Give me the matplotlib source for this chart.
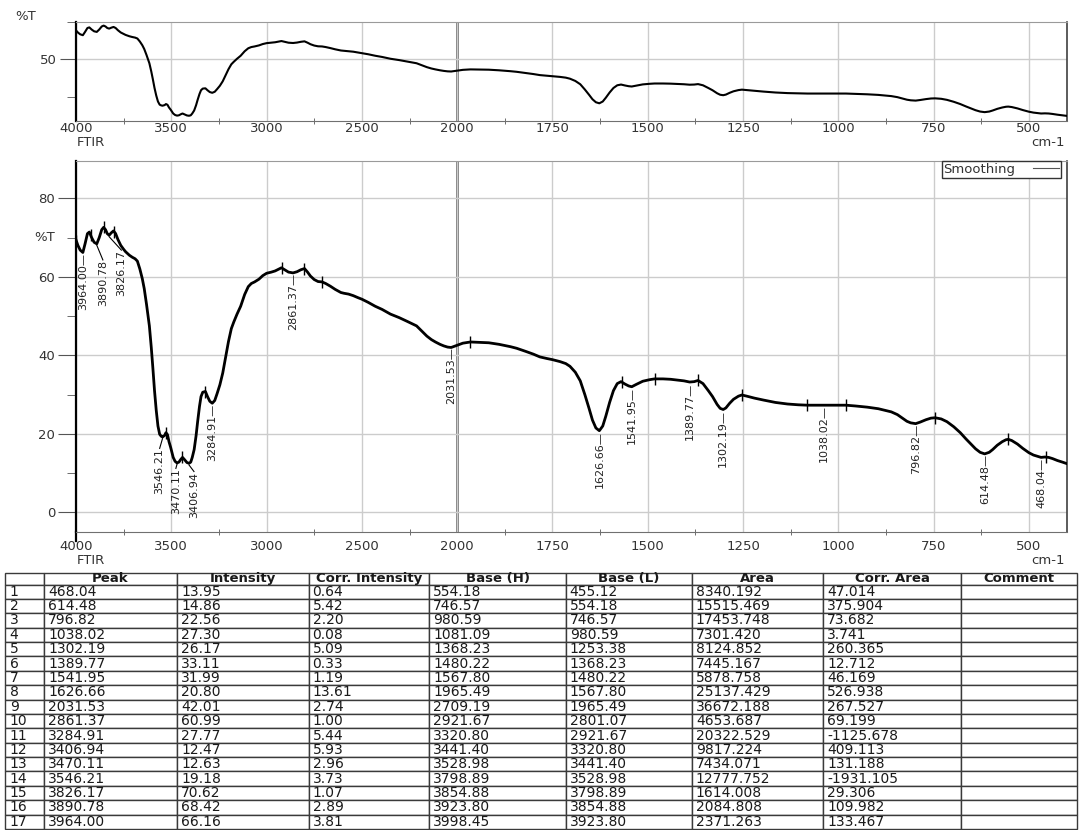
import numpy as np
import matplotlib
matplotlib.use('Agg')
import matplotlib.pyplot as plt
from matplotlib.lines import Line2D

# spectrum: wavenumber (cm-1) and %T
wavenumber = [4000, 3990, 3978, 3964, 3952, 3940, 3930, 3918, 3905, 3891,
              3878, 3865, 3855, 3845, 3836, 3826, 3815, 3803, 3792, 3780,
              3765, 3750, 3740, 3720, 3705, 3690, 3678, 3665, 3652, 3642,
              3630, 3615, 3605, 3597, 3588, 3579, 3570, 3561, 3553, 3546,
              3535, 3528, 3520, 3512, 3503, 3490, 3480, 3470, 3460, 3450,
              3441, 3430, 3418, 3407, 3398, 3390, 3380, 3370, 3362, 3352,
              3344, 3335, 3321, 3310, 3298, 3285, 3272, 3260, 3245, 3230,
              3215, 3200, 3185, 3172, 3155, 3136, 3115, 3096, 3080, 3063,
              3040, 3020, 3000, 2975, 2955, 2935, 2922, 2905, 2885, 2861,
              2840, 2820, 2801, 2785, 2770, 2750, 2730, 2709, 2690, 2665,
              2640, 2610, 2593, 2570, 2545, 2521, 2500, 2467, 2430, 2394,
              2350, 2304, 2260, 2213, 2190, 2159, 2135, 2114, 2090, 2070,
              2050, 2031.5, 2015, 2000, 1985, 1965, 1940, 1917, 1890, 1860,
              1844, 1820, 1800, 1783, 1765, 1750, 1730, 1715, 1704, 1690,
              1677, 1665, 1654, 1645, 1636, 1627, 1618, 1610, 1600, 1590,
              1580, 1570, 1560, 1550, 1542, 1530, 1513, 1495, 1482, 1460,
              1440, 1423, 1405, 1390, 1378, 1368, 1355, 1341, 1330, 1318,
              1310, 1302, 1295, 1285, 1275, 1262, 1253, 1240, 1220, 1196,
              1165, 1133, 1105, 1081, 1060, 1038, 1010, 980, 955, 924,
              895, 861, 845, 832, 820, 810, 797, 785, 770, 757,
              746, 730, 715, 697, 680, 665, 652, 640, 628, 616,
              604, 595, 583, 570, 560, 554, 545, 530, 516, 500,
              488, 475, 468, 458, 448, 438, 425, 412, 400]
transmittance = [69.4, 68.0, 66.8, 66.2, 68.5, 71.0, 71.4, 70.0, 68.8, 68.4,
                 70.0, 72.0, 72.6, 72.0, 71.0, 70.6, 71.2, 71.7, 71.0, 69.5,
                 68.0, 67.0, 66.4, 65.5, 65.0, 64.6, 64.0, 62.0, 59.5, 57.0,
                 53.0, 47.5, 42.0, 37.0, 31.0, 26.0, 22.0, 19.9, 19.4, 19.2,
                 19.6, 20.3, 19.8, 18.0, 16.5, 14.0, 13.0, 12.6, 12.8, 13.5,
                 14.0, 13.4, 12.7, 12.5, 12.8, 14.0, 16.0, 19.5, 23.0, 27.0,
                 29.5, 30.6, 30.8, 29.5, 28.3, 27.8, 28.5, 30.2, 32.5, 35.5,
                 39.5, 43.5, 46.8, 48.5, 50.5, 52.5, 55.5, 57.5, 58.3, 58.7,
                 59.4, 60.3, 60.9, 61.2, 61.5, 62.0, 62.3, 61.8, 61.2, 61.0,
                 61.3, 61.8, 62.1, 61.2, 60.2, 59.3, 58.8, 58.7, 58.3, 57.6,
                 56.8, 56.0, 55.8, 55.6, 55.2, 54.7, 54.3, 53.5, 52.5, 51.7,
                 50.5, 49.6, 48.6, 47.5, 46.4, 44.9, 44.0, 43.4, 42.8, 42.4,
                 42.1, 42.0, 42.3, 42.6, 43.1, 43.4, 43.3, 43.2, 42.8, 42.2,
                 41.8, 41.0, 40.3, 39.6, 39.2, 38.9, 38.4, 37.9, 37.2, 35.7,
                 33.5, 30.0, 26.5, 23.5, 21.5, 20.8, 22.0, 24.5, 28.0, 31.0,
                 32.8, 33.3, 32.7, 32.2, 32.0, 32.6, 33.4, 33.8, 34.0, 34.0,
                 33.9, 33.7, 33.5, 33.2, 33.3, 33.6, 32.8, 31.0, 29.5, 27.5,
                 26.5, 26.2, 26.6, 27.8, 28.8, 29.6, 29.9, 29.6, 29.1, 28.6,
                 28.0, 27.6, 27.4, 27.3, 27.3, 27.3, 27.3, 27.3, 27.1, 26.8,
                 26.4, 25.6, 24.9, 24.0, 23.2, 22.8, 22.6, 23.0, 23.6, 24.0,
                 24.1, 23.8, 23.1, 21.8, 20.3, 18.7, 17.4, 16.2, 15.3, 14.9,
                 15.3, 16.0, 17.1, 18.0, 18.5, 18.6, 18.3, 17.4, 16.3, 15.2,
                 14.6, 14.2, 14.0, 14.1, 14.0, 13.7, 13.2, 12.8, 12.4]

# peak table
peak = [468.04, 614.48, 796.82, 1038.02, 1302.19, 1389.77, 1541.95, 1626.66, 2031.53,
        2861.37, 3284.91, 3406.94, 3470.11, 3546.21, 3826.17, 3890.78, 3964.00]
intensity = [13.95, 14.86, 22.56, 27.30, 26.17, 33.11, 31.99, 20.80, 42.01,
             60.99, 27.77, 12.47, 12.63, 19.18, 70.62, 68.42, 66.16]
corr_intensity = [0.64, 5.42, 2.20, 0.08, 5.09, 0.33, 1.19, 13.61, 2.74,
                  1.00, 5.44, 5.93, 2.96, 3.73, 1.07, 2.89, 3.81]
base_h = [554.18, 746.57, 980.59, 1081.09, 1368.23, 1480.22, 1567.80, 1965.49, 2709.19,
          2921.67, 3320.80, 3441.40, 3528.98, 3798.89, 3854.88, 3923.80, 3998.45]
base_l = [455.12, 554.18, 746.57, 980.59, 1253.38, 1368.23, 1480.22, 1567.80, 1965.49,
          2801.07, 2921.67, 3320.80, 3441.40, 3528.98, 3798.89, 3854.88, 3923.80]
area = [8340.192, 15515.469, 17453.748, 7301.420, 8124.852, 7445.167, 5878.758, 25137.429, 36672.188,
        4653.687, 20322.529, 9817.224, 7434.071, 12777.752, 1614.008, 2084.808, 2371.263]
corr_area = [47.014, 375.904, 73.682, 3.741, 260.365, 12.712, 46.169, 526.938, 267.527,
             69.199, -1125.678, 409.113, 131.188, -1931.105, 29.306, 109.982, 133.467]

major_x = [4000, 3500, 3000, 2500, 2000, 1750, 1500, 1250, 1000, 750, 500]
minor_x = [3750, 3250, 2750, 2250, 1875, 1625, 1375, 1125, 875, 625]

# crowded labels get moved off the peak with a leader line (label x, label top)
moved_labels = {3890.78: (3859, 64.3), 3826.17: (3762, 66.8),
                3546.21: (3561, 16.3), 3470.11: (3476, 11.2), 3406.94: (3381, 10.4)}

W, H = 1081, 830
TXT = '#333333'


def fwd(w):
    # half scale above 2000 cm-1
    w = np.asarray(w, dtype=float)
    return np.where(w > 2000, 2000 + (w - 2000) / 2.0, w)


def inv(u):
    u = np.asarray(u, dtype=float)
    return np.where(u > 2000, 2000 + (u - 2000) * 2.0, u)


def style(ax, xpad):
    ax.set_xscale('function', functions=(fwd, inv))
    ax.set_xlim(4000, 400)
    ax.set_xticks(major_x)
    ax.set_xticks(minor_x, minor=True)
    ax.grid(True, which='major', color='#cccccc', lw=1.0, zorder=0)
    ax.axvline(2000, color='#555555', lw=1.8, zorder=1)
    ax.spines['left'].set_color('black')
    ax.spines['left'].set_linewidth(1.6)
    ax.spines['top'].set_color('#9a9a9a')
    ax.spines['right'].set_color('#404040')
    ax.spines['right'].set_linewidth(1.2)
    ax.spines['bottom'].set_color('#707070')
    ax.tick_params(axis='x', which='major', length=0, pad=xpad, labelsize=9.5, labelcolor=TXT)
    ax.tick_params(axis='x', which='minor', direction='inout', length=5, color='#555555')
    ax.tick_params(axis='y', which='major', direction='out', length=13, pad=2,
                   labelsize=9.5, labelcolor=TXT, color='#555555')
    ax.tick_params(axis='y', which='minor', direction='out', length=6.5, color='#555555')


fig = plt.figure(figsize=(W / 100, H / 100), dpi=100)

# overview panel
ax0 = fig.add_axes([76 / W, 1 - 121 / H, 991 / W, 99 / H])
style(ax0, 1)
ax0.plot(wavenumber, transmittance, color='black', lw=1.5, zorder=3)
ax0.set_ylim(9, 75)
ax0.set_yticks([50])
ax0.set_yticks([25, 75], minor=True)
ax0.tick_params(axis='y', which='major', length=11.5)
fig.text(15 / W, 1 - 16.5 / H, '%T', color=TXT, fontsize=9.5, va='center')
fig.text(77 / W, 1 - 143 / H, 'FTIR', color=TXT, fontsize=9.5, va='center')
fig.text(1065 / W, 1 - 143 / H, 'cm-1', color=TXT, fontsize=9.5, va='center', ha='right')

# main panel
ax = fig.add_axes([76 / W, 1 - 532 / H, 991 / W, 371 / H])
style(ax, 6)
ax.plot(wavenumber, transmittance, color='black', lw=2.0, zorder=3)
ax.set_ylim(-5, 89.5)
ax.set_yticks([0, 20, 40, 60, 80])
ax.set_yticks([10, 30, 50, 70], minor=True)
ax.text(-0.021, 70, '%T', transform=ax.get_yaxis_transform(), ha='right', va='center',
        color=TXT, fontsize=9.5)
ax.plot([0, 0], [0, -0.025], transform=ax.transAxes, color='black', lw=1.6, clip_on=False)
fig.text(77 / W, 1 - 560 / H, 'FTIR', color=TXT, fontsize=9.5, va='center')
fig.text(1065 / W, 1 - 561 / H, 'cm-1', color=TXT, fontsize=9.5, va='center', ha='right')

# small ticks at the baseline points
w_up = np.array(wavenumber[::-1], dtype=float)
t_up = np.array(transmittance[::-1], dtype=float)
bases = sorted(set(base_h + base_l))
ax.plot(bases, np.interp(bases, w_up, t_up), '|', ms=8, mew=1.0, color='black', zorder=4)

# peak labels
for p, t in zip(peak, intensity):
    if p in moved_labels:
        lx, ly = moved_labels[p]
        ax.plot([p, lx], [t - 0.4, ly], color='black', lw=0.8, zorder=4)
        ax.text(lx, ly, f'{p:.2f}', rotation=90, ha='center', va='top',
                fontsize=8, color='#222222', zorder=5)
    else:
        ax.text(p, t, f'{p:.2f}\u2014', rotation=90, ha='center', va='top',
                fontsize=8, color='#222222', zorder=5)

handle = Line2D([], [], color='#555555', lw=0.8)
leg = ax.legend([handle], ['Smoothing'], loc='upper right', bbox_to_anchor=(1 - 6 / 991, 1.0),
                borderaxespad=0, fancybox=False, edgecolor='#333333', framealpha=1,
                markerfirst=False, fontsize=9.5, borderpad=0.15, handlelength=2.0,
                handletextpad=1.3)
leg.get_frame().set_linewidth(1.0)
for txt in leg.get_texts():
    txt.set_color(TXT)

# peak table
cols = ['', 'Peak', 'Intensity', 'Corr. Intensity', 'Base (H)', 'Base (L)', 'Area',
        'Corr. Area', 'Comment']
rows = []
for i in range(len(peak)):
    rows.append([str(i + 1), f'{peak[i]:.2f}', f'{intensity[i]:.2f}', f'{corr_intensity[i]:.2f}',
                 f'{base_h[i]:.2f}', f'{base_l[i]:.2f}', f'{area[i]:.3f}', f'{corr_area[i]:.3f}', ''])
edges = np.array([5, 44, 177, 309, 429, 566, 692, 823, 961, 1077], dtype=float)
widths = list(np.diff(edges) / (edges[-1] - edges[0]))

axt = fig.add_axes([5 / W, 1 / H, 1072 / W, 256 / H])
axt.axis('off')
tb = axt.table(cellText=rows, colLabels=cols, colWidths=widths, bbox=[0, 0, 1, 1], cellLoc='left')
tb.auto_set_font_size(False)
tb.set_fontsize(10)
for (r, c), cell in tb.get_celld().items():
    cell.set_edgecolor('#3a3a3a')
    cell.set_linewidth(1.0)
    cell.PAD = 0.12 if c == 0 else 0.03
    cell.get_text().set_color('#1a1a1a')
    if r == 0:
        cell.set_height(cell.get_height() * 0.8)
        cell.get_text().set_fontweight('bold')
        cell.get_text().set_fontsize(9.5)
        cell.get_text().set_horizontalalignment('center')

fig.savefig('out.png', dpi=100)
